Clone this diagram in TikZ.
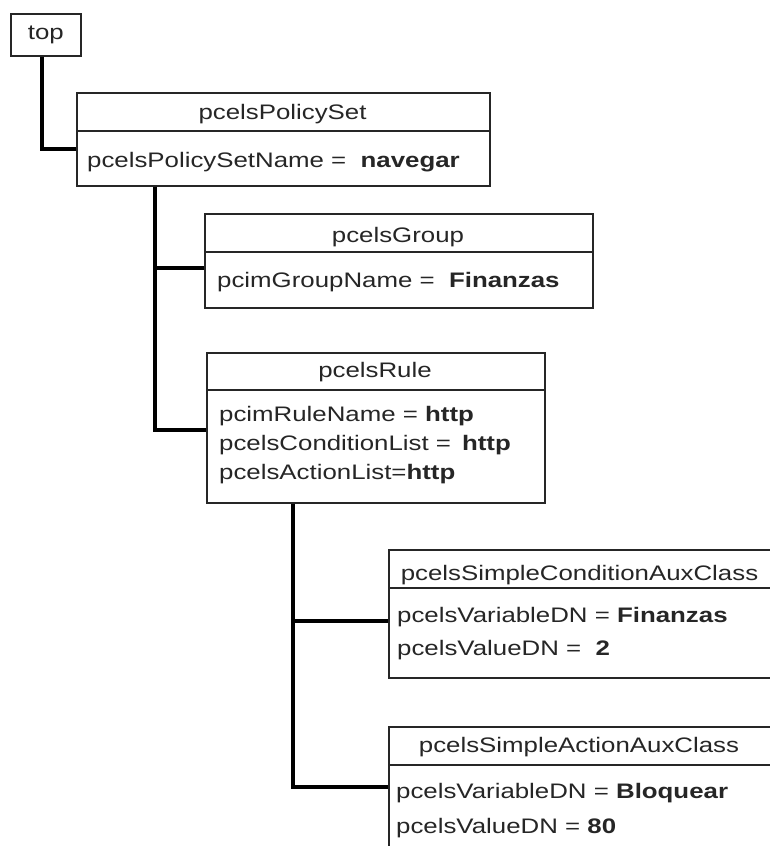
\documentclass[tikz,border=0pt]{standalone}
\usepackage{fontspec}
\setmainfont[FakeStretch=1.23]{Liberation Sans}
\usetikzlibrary{calc}

\begin{document}
\begin{tikzpicture}[x=1pt,y=-1pt,
  box/.style={draw=black!85, line width=1.6pt, fill=white, inner sep=0pt, anchor=north west},
  link/.style={draw=black, line width=3.4pt, line join=miter},
  lbl/.style={font=\fontsize{21}{25}\selectfont, inner sep=0pt, text=black!85},
  hd/.style={lbl, anchor=base},
  attr/.style={lbl, anchor=base west}]
\useasboundingbox (0,0) rectangle (770,846);
\clip (0,0) rectangle (770,846);

% root entry
\node[box, minimum width=70pt, minimum height=42pt, font=\fontsize{21}{25}\selectfont, text=black!85] (top) at (10,13) {top};

% class boxes: header row and attribute row
\node[box, minimum width=413pt, minimum height=38pt] (psH) at (76,92) {};
\node[box, minimum width=413pt, minimum height=55pt] (psB) at (76,130) {};

\node[box, minimum width=388pt, minimum height=38pt] (grH) at (204,213) {};
\node[box, minimum width=388pt, minimum height=56pt] (grB) at (204,251) {};

\node[box, minimum width=338pt, minimum height=37pt] (ruH) at (206,352) {};
\node[box, minimum width=338pt, minimum height=113pt] (ruB) at (206,389) {};

\node[box, minimum width=384pt, minimum height=38pt] (coH) at (388,549) {};
\node[box, minimum width=384pt, minimum height=90pt] (coB) at (388,587) {};

\node[box, minimum width=384pt, minimum height=38pt] (acH) at (388,726) {};
\node[box, minimum width=384pt, minimum height=110pt] (acB) at (388,764) {};

% tree connectors
\draw[link] ([xshift=-4pt]top.south) |- ([yshift=-19pt]psB.north west);
\draw[link] ([xshift=79pt]psB.south west) |- ([yshift=-17pt]grB.north west);
\draw[link] ([xshift=79pt]psB.south west) |- ([yshift=-41pt]ruB.north west);
\draw[link] ([xshift=87pt]ruB.south west) |- ([yshift=-34pt]coB.north west);
\draw[link] ([xshift=87pt]ruB.south west) |- ([yshift=-23pt]acB.north west);

% class names
\node[hd] (psT) at (282.5,119) {pcelsPolicySet};
\node[hd] (grT) at (398,242) {pcelsGroup};
\node[hd] (ruT) at (375,377) {pcelsRule};
\node[hd] (coT) at (579.5,580) {pcelsSimpleConditionAuxClass};
\node[hd] (acT) at (579,752) {pcelsSimpleActionAuxClass};

% attributes
\node[attr] (psA) at (87,167) {pcelsPolicySetName = \ \textbf{navegar}};
\node[attr] (grA) at (217,287) {pcimGroupName = \ \textbf{Finanzas}};
\node[attr] (ruA1) at (219,421) {pcimRuleName = \textbf{http}};
\node[attr] (ruA2) at (219,450) {pcelsConditionList =\hspace{11pt}\textbf{http}};
\node[attr] (ruA3) at (219,479) {pcelsActionList=\textbf{http}};
\node[attr] (coA1) at (397,622) {pcelsVariableDN = \textbf{Finanzas}};
\node[attr] (coA2) at (397,655) {pcelsValueDN = \ \textbf{2}};
\node[attr] (acA1) at (396,798) {pcelsVariableDN = \textbf{Bloquear}};
\node[attr] (acA2) at (396,833) {pcelsValueDN = \textbf{80}};
\end{tikzpicture}
\end{document}
